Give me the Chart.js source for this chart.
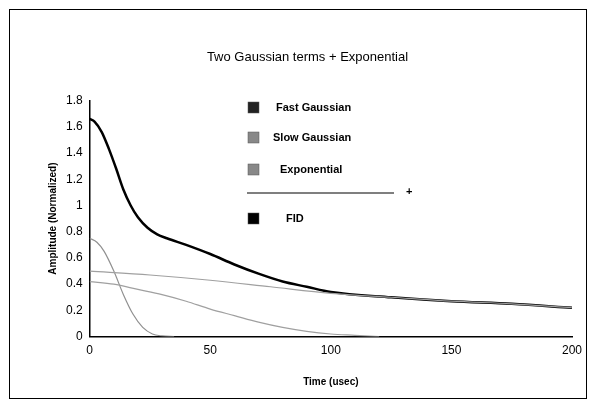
<!DOCTYPE html>
<html><head>
<script src="https://cdn.jsdelivr.net/npm/chart.js@4"></script>
<style>
body{margin:0;background:#fff;}
#wrap{position:absolute;left:9px;top:9px;width:578px;height:390px;border:1px solid #000;box-sizing:border-box;}
#c{position:absolute;left:0;top:0;}
</style>
</head><body>
<div id="wrap"></div>
<canvas id="c" width="598" height="410"></canvas>
<script>
// values
const fastT = [0, 3, 6, 10, 14, 18, 22, 26, 30, 35];
const fastA = [0.75, 0.72, 0.65, 0.50, 0.32, 0.17, 0.07, 0.02, 0.005, 0];
const slowT = [0, 10, 20, 30, 40, 50, 60, 70, 80, 90, 100, 110, 120];
const slowA = [0.42, 0.40, 0.36, 0.32, 0.27, 0.21, 0.16, 0.11, 0.07, 0.04, 0.02, 0.01, 0];
const expT = [0, 25, 50, 75, 100, 125, 150, 175, 200];
const expA = [0.50, 0.47, 0.43, 0.38, 0.33, 0.30, 0.27, 0.25, 0.22];
const fidT = [0, 2, 5, 8, 11, 14, 17, 20, 24, 28, 32, 40, 50, 60, 70, 80, 90, 100, 125, 150, 175, 200];
const fidA = [1.66, 1.64, 1.56, 1.43, 1.28, 1.12, 1.00, 0.91, 0.83, 0.78, 0.75, 0.70, 0.63, 0.55, 0.48, 0.42, 0.38, 0.34, 0.30, 0.27, 0.25, 0.22];
const legendItems = ['Fast Gaussian', 'Slow Gaussian', 'Exponential', 'FID'];

const pts = (t, a) => t.map((x, i) => ({ x, y: a[i] }));
const font = 'bold 11px "Liberation Sans", Arial, sans-serif';

const legendPlugin = {
  id: 'boxLegend',
  afterDraw(chart) {
    const ctx = chart.ctx;
    ctx.save();
    ctx.font = font;
    ctx.textBaseline = 'middle';
    const rows = [
      { y: 108, fill: '#222', text: legendItems[0], tx: 276 },
      { y: 138, fill: '#888', text: legendItems[1], tx: 273 },
      { y: 170, fill: '#888', text: legendItems[2], tx: 280 },
      { y: 219, fill: '#000', text: legendItems[3], tx: 286 }
    ];
    rows.forEach(r => {
      ctx.fillStyle = r.fill;
      ctx.fillRect(248, r.y - 6, 11, 11);
      ctx.strokeStyle = '#555';
      ctx.lineWidth = 0.5;
      ctx.strokeRect(248, r.y - 6, 11, 11);
      ctx.fillStyle = '#000';
      ctx.fillText(r.text, r.tx, r.y);
    });
    ctx.strokeStyle = '#000';
    ctx.lineWidth = 1.2;
    ctx.beginPath(); ctx.moveTo(247, 193); ctx.lineTo(394, 193); ctx.stroke();
    ctx.fillText('+', 406, 192);
    ctx.restore();
  }
};

new Chart(document.getElementById('c'), {
  type: 'line',
  data: {
    datasets: [
      { data: pts(expT, expA), borderColor: '#a0a0a0', borderWidth: 1.2 },
      { data: pts(slowT, slowA), borderColor: '#a0a0a0', borderWidth: 1.2 },
      { data: pts(fastT, fastA), borderColor: '#909090', borderWidth: 1.2 },
      { data: pts(fidT, fidA), borderColor: '#000', borderWidth: 2.5 }
    ]
  },
  options: {
    responsive: false,
    animation: false,
    layout: { padding: { left: 43, right: 26, top: 50, bottom: 22 } },
    elements: { point: { radius: 0 }, line: { tension: 0.4, cubicInterpolationMode: 'monotone' } },
    plugins: {
      legend: { display: false },
      tooltip: { enabled: false },
      title: {
        display: true,
        text: 'Two Gaussian terms + Exponential',
        color: '#000',
        font: { family: '"Liberation Sans", Arial, sans-serif', size: 13, weight: 'normal' },
        padding: { top: 0, bottom: 35 }
      }
    },
    scales: {
      x: {
        type: 'linear', min: 0, max: 200,
        ticks: { stepSize: 50, color: '#000', font: { family: '"Liberation Sans", Arial', size: 12 } },
        grid: { display: false, drawTicks: true, tickLength: 4, color: '#000' },
        border: { color: '#000', width: 1.5 },
        title: { display: true, text: 'Time (usec)', color: '#000', padding: { top: 15, bottom: 0 },
          font: { family: '"Liberation Sans", Arial', size: 10, weight: 'bold' } }
      },
      y: {
        min: 0, max: 1.8,
        ticks: { stepSize: 0.2, color: '#000', font: { family: '"Liberation Sans", Arial', size: 12 },
          callback: v => Math.round(v * 10) / 10 },
        grid: { display: false, drawTicks: true, tickLength: 4, color: '#000' },
        border: { color: '#000', width: 1.5 },
        title: { display: true, text: 'Amplitude (Normalized)', color: '#000', font: { family: '"Liberation Sans", Arial', size: 10, weight: 'bold' } }
      }
    }
  },
  plugins: [legendPlugin]
});
</script>
</body></html>
